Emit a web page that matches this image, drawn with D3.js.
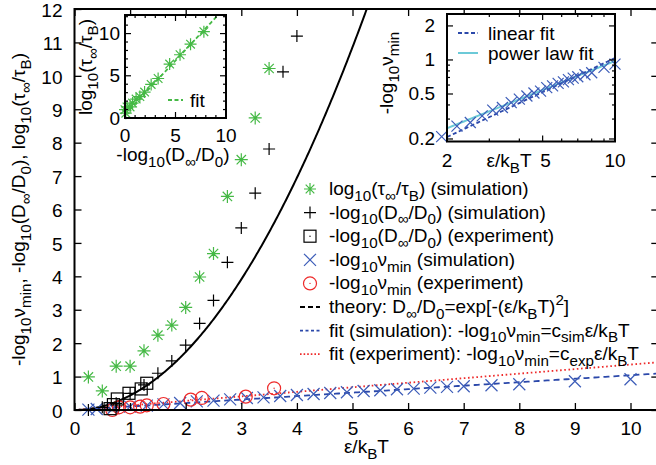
<!DOCTYPE html>
<html>
<head>
<meta charset="utf-8">
<script src="https://cdn.jsdelivr.net/npm/d3@7"></script>
<style>
  body { margin: 0; background: #fff; }
  svg { display: block; }
  text { font-family: "Liberation Sans", Arial, Helvetica, sans-serif; white-space: pre; fill: #000; }
</style>
</head>
<body>
<svg id="chart" width="656" height="465"></svg>
<script>
// ---- data ----
// log10(tau_inf/tau_B), simulation
const epsTau = [0.25, 0.5, 0.75, 1.0, 1.25, 1.5, 1.75, 2.0, 2.25, 2.5, 2.75, 3.0, 3.25, 3.5];
const logTau = [0.99, 0.57, 1.31, 1.31, 1.77, 2.24, 2.54, 3.07, 3.98, 4.68, 6.39, 7.49, 8.74, 10.22];
// -log10(D_inf/D0), simulation
const epsDsim = [0.25, 0.5, 0.75, 1.0, 1.25, 1.5, 1.75, 2.0, 2.25, 2.5, 2.75, 3.0, 3.25, 3.5, 3.75, 4.0];
const negLogDsim = [0.0, 0.08, 0.2, 0.5, 0.75, 1.1, 1.47, 1.94, 2.59, 3.28, 4.42, 5.45, 6.49, 7.81, 10.12, 11.19];
// -log10(D_inf/D0), experiment
const epsDexp = [0.64, 0.7, 0.77, 0.98, 1.2, 1.3];
const negLogDexp = [0.04, 0.16, 0.33, 0.5, 0.63, 0.8];
// -log10 nu_min, simulation
const epsNuSim = [0.25, 0.4, 0.7, 1.0, 1.3, 1.6, 1.9, 2.2, 2.5, 2.8, 3.1, 3.4, 3.7, 4.0, 4.3, 4.6, 4.9, 5.2, 5.5, 5.8, 6.1, 6.4, 6.7, 7.0, 7.5, 8.0, 9.0, 10.0];
const negLogNuSim = [0.01, 0.03, 0.06, 0.10, 0.13, 0.17, 0.21, 0.26, 0.28, 0.32, 0.36, 0.38, 0.42, 0.45, 0.48, 0.51, 0.53, 0.57, 0.59, 0.62, 0.64, 0.67, 0.69, 0.71, 0.74, 0.77, 0.86, 0.92];
// -log10 nu_min, experiment
const epsNuExp = [0.68, 0.8, 1.0, 1.18, 1.3, 1.6, 2.09, 2.29, 3.08, 3.59];
const negLogNuExp = [0.0, 0.08, 0.08, 0.1, 0.14, 0.18, 0.31, 0.36, 0.4, 0.65];
// fit parameters
const cSim = 0.104;
const cExp = 0.136;
const powA = 0.138, powB = 0.851;
const tauFitSlope = 1.28, tauFitIntercept = 0.4;
// tick values
const xTicks = [0, 1, 2, 3, 4, 5, 6, 7, 8, 9, 10];
const yTicks = [0, 1, 2, 3, 4, 5, 6, 7, 8, 9, 10, 11, 12];
const in1Major = [0, 5, 10];
const in1Minor = [1, 2, 3, 4, 6, 7, 8, 9, 11, 12];
const in2XMajor = [2, 5, 10];
const in2XMinor = [3, 4, 6, 7, 8, 9];
const in2YMajor = [0.2, 0.5, 1, 2];
const in2YMinor = [0.3, 0.4, 0.6, 0.7, 0.8, 0.9];

// ---- colours ----
const GREEN = "#45b945", BLUE = "#3c5cb8", BLUE_LINE = "#2b48aa", RED = "#ee2a2a", CYAN = "#6ccad8";
const FS = 19;

const svg = d3.select("#chart");

// text with _sub and ^sup markup
function rich(sel, str, fs) {
  const re = /([_^])(\{([^}]*)\}|(.))/g;
  const segs = [];
  let last = 0, m;
  while ((m = re.exec(str))) {
    if (m.index > last) segs.push({ t: str.slice(last, m.index), k: 0 });
    segs.push({ t: m[3] !== undefined ? m[3] : m[4], k: m[1] === "_" ? 1 : -1 });
    last = re.lastIndex;
  }
  if (last < str.length) segs.push({ t: str.slice(last), k: 0 });
  let cur = 0;
  segs.forEach(s => {
    const off = s.k === 1 ? 0.3 * fs : s.k === -1 ? -0.42 * fs : 0;
    sel.append("tspan").attr("dy", off - cur).attr("font-size", s.k ? fs * 0.8 : fs).text(s.t);
    cur = off;
  });
  return sel;
}

function label(g, str, x, y, anchor, fs, rot) {
  const t = g.append("text").attr("text-anchor", anchor || "start").attr("font-size", fs || FS);
  if (rot) t.attr("transform", `translate(${x},${y}) rotate(${rot})`);
  else t.attr("x", x).attr("y", y);
  return rich(t, str, fs || FS);
}

// point symbols
function symbolPath(type, cx, cy, s) {
  const p = d3.path();
  if (type === "plus" || type === "star") {
    p.moveTo(cx - s, cy); p.lineTo(cx + s, cy);
    p.moveTo(cx, cy - s); p.lineTo(cx, cy + s);
  }
  if (type === "cross" || type === "star") {
    const d = type === "star" ? s * 0.72 : s;
    p.moveTo(cx - d, cy - d); p.lineTo(cx + d, cy + d);
    p.moveTo(cx - d, cy + d); p.lineTo(cx + d, cy - d);
  }
  return p.toString();
}
function drawPoint(g, type, cx, cy, s, color) {
  if (type === "square") {
    g.append("rect").attr("x", cx - s).attr("y", cy - s).attr("width", 2 * s).attr("height", 2 * s)
      .attr("fill", "none").attr("stroke", color).attr("stroke-width", 1.2);
    g.append("circle").attr("cx", cx).attr("cy", cy).attr("r", 0.7).attr("fill", color);
  } else if (type === "circle") {
    g.append("circle").attr("cx", cx).attr("cy", cy).attr("r", s)
      .attr("fill", "none").attr("stroke", color).attr("stroke-width", 1.2);
    g.append("circle").attr("cx", cx).attr("cy", cy).attr("r", 0.7).attr("fill", color);
  } else {
    g.append("path").attr("d", symbolPath(type, cx, cy, s)).attr("fill", "none")
      .attr("stroke", color).attr("stroke-width", 1.2);
  }
}

// ---- main plot ----
const x = d3.scaleLinear().domain([0, 10.5]).range([74.5, 658.3]);
const y = d3.scaleLinear().domain([0, 12]).range([410, 9]);

svg.append("clipPath").attr("id", "clipMain").append("rect")
  .attr("x", x(0)).attr("y", y(12)).attr("width", x(10.5) - x(0)).attr("height", y(0) - y(12));

const plot = svg.append("g").attr("clip-path", "url(#clipMain)");

// fit lines
const fitX = d3.range(0, 10.51, 0.05);
const lineMain = d3.line().x(d => x(d[0])).y(d => y(d[1]));
plot.append("path").attr("d", lineMain(fitX.map(e => [e, cExp * e])))
  .attr("fill", "none").attr("stroke", RED).attr("stroke-width", 1.8).attr("stroke-dasharray", "1.6,2.6");
plot.append("path").attr("d", lineMain(fitX.map(e => [e, cSim * e])))
  .attr("fill", "none").attr("stroke", BLUE_LINE).attr("stroke-width", 1.8).attr("stroke-dasharray", "6,4");
// theory curve: -log10(D/D0) = (eps/kT)^2 / ln 10
plot.append("path").attr("d", lineMain(d3.range(0, 5.6, 0.02).map(e => [e, e * e / Math.LN10])))
  .attr("fill", "none").attr("stroke", "#000").attr("stroke-width", 2);

const pts = svg.append("g");
epsNuSim.forEach((e, i) => drawPoint(pts, "cross", x(e), y(negLogNuSim[i]), 6, BLUE));
epsNuExp.forEach((e, i) => drawPoint(pts, "circle", x(e), y(negLogNuExp[i]), 6.5, RED));
epsDexp.forEach((e, i) => drawPoint(pts, "square", x(e), y(negLogDexp[i]), 6, "#000"));
epsDsim.forEach((e, i) => drawPoint(pts, "plus", x(e), y(negLogDsim[i]), 6, "#000"));
epsTau.forEach((e, i) => drawPoint(pts, "star", x(e), y(logTau[i]), 6.5, GREEN));

// axes
function styleAxis(g, fs) {
  g.attr("font-family", null).attr("font-size", null);
  g.select(".domain").remove();
  g.selectAll(".tick line").attr("stroke", "#000").attr("stroke-width", 1.3);
  g.selectAll(".tick text").attr("font-size", fs).attr("fill", "#000");
}
const TK = 7;
styleAxis(svg.append("g").attr("transform", `translate(0,${y(0)})`)
  .call(d3.axisBottom(x).tickValues(xTicks).tickSize(-TK).tickPadding(11.5).tickFormat(d3.format("d"))), FS);
const yAxisG = svg.append("g").attr("transform", `translate(${x(0)},0)`)
  .call(d3.axisLeft(y).tickValues(yTicks).tickSize(-TK).tickPadding(12).tickFormat(d3.format("d")));
styleAxis(yAxisG, FS);
yAxisG.selectAll(".tick text").attr("dy", "0.38em");
styleAxis(svg.append("g").attr("transform", `translate(0,${y(12)})`)
  .call(d3.axisTop(x).tickValues(xTicks).tickSize(-TK).tickFormat("")), FS);
styleAxis(svg.append("g").attr("transform", `translate(${x(10.5)},0)`)
  .call(d3.axisRight(y).tickValues(yTicks).tickSize(-TK).tickFormat("")), FS);
svg.append("rect").attr("x", x(0)).attr("y", y(12)).attr("width", x(10.5) - x(0)).attr("height", y(0) - y(12))
  .attr("fill", "none").attr("stroke", "#000").attr("stroke-width", 2);

label(svg, "ε/k_BT", (x(0) + x(10.5)) / 2, 453, "middle");
label(svg, "-log_{10}ν_{min}, -log_{10}(D_∞/D_0), log_{10}(τ_∞/τ_B)", 25, (y(0) + y(12)) / 2, "middle", FS, -90);

// legend
const leg = svg.append("g");
const legRows = [
  { kind: "star", color: GREEN, text: "log_{10}(τ_∞/τ_B) (simulation)" },
  { kind: "plus", color: "#000", text: "-log_{10}(D_∞/D_0) (simulation)" },
  { kind: "square", color: "#000", text: "-log_{10}(D_∞/D_0) (experiment)" },
  { kind: "cross", color: BLUE, text: "-log_{10}ν_{min} (simulation)" },
  { kind: "circle", color: RED, text: "-log_{10}ν_{min} (experiment)" },
  { kind: "line", color: "#000", dash: "5,3", text: "theory: D_∞/D_0=exp[-(ε/k_BT)^{2}]" },
  { kind: "line", color: BLUE_LINE, dash: "3,2.5", text: "fit (simulation): -log_{10}ν_{min}=c_{sim}ε/k_BT" },
  { kind: "line", color: RED, dash: "1.6,2", text: "fit (experiment): -log_{10}ν_{min}=c_{exp}ε/k_BT" }
];
legRows.forEach((r, i) => {
  const cy = 189 + i * 23.6;
  if (r.kind === "line") {
    leg.append("line").attr("x1", 300).attr("x2", 320).attr("y1", cy).attr("y2", cy)
      .attr("stroke", r.color).attr("stroke-width", 1.8).attr("stroke-dasharray", r.dash);
  } else {
    drawPoint(leg, r.kind, 310, cy, r.kind === "circle" ? 6.5 : 6, r.color);
  }
  label(leg, r.text, 329, cy + 6, "start");
});

// ---- inset 1: tau vs D ----
const ix = d3.scaleLinear().domain([0, 10]).range([125, 226]);
const iy = d3.scaleLinear().domain([0, 12.2]).range([118, 15]);
const in1 = svg.append("g");
in1.append("rect").attr("x", 125).attr("y", 15).attr("width", 101).attr("height", 103).attr("fill", "#fff");
in1.append("clipPath").attr("id", "clipIn1").append("rect").attr("x", 125).attr("y", 15).attr("width", 101).attr("height", 103);
in1.append("path").attr("clip-path", "url(#clipIn1)")
  .attr("d", d3.line().x(d => ix(d)).y(d => iy(tauFitIntercept + tauFitSlope * d))(d3.range(0, 10.01, 0.5)))
  .attr("fill", "none").attr("stroke", GREEN).attr("stroke-width", 1.8).attr("stroke-dasharray", "4,2.5");
epsTau.forEach((e, i) => drawPoint(in1, "star", ix(negLogDsim[i]), iy(logTau[i]), 6, GREEN));
function inTicks(g, xs, ys, len) {
  xs.forEach(v => {
    g.append("line").attr("x1", ix(v)).attr("x2", ix(v)).attr("y1", 118).attr("y2", 118 - len).attr("stroke", "#000").attr("stroke-width", 1.2);
    g.append("line").attr("x1", ix(v)).attr("x2", ix(v)).attr("y1", 15).attr("y2", 15 + len).attr("stroke", "#000").attr("stroke-width", 1.2);
  });
  ys.forEach(v => {
    g.append("line").attr("y1", iy(v)).attr("y2", iy(v)).attr("x1", 125).attr("x2", 125 + len).attr("stroke", "#000").attr("stroke-width", 1.2);
    g.append("line").attr("y1", iy(v)).attr("y2", iy(v)).attr("x1", 226).attr("x2", 226 - len).attr("stroke", "#000").attr("stroke-width", 1.2);
  });
}
inTicks(in1, in1Major, in1Major, 6);
inTicks(in1, in1Minor.filter(v => v <= 10), in1Minor, 3);
in1.append("rect").attr("x", 125).attr("y", 15).attr("width", 101).attr("height", 103)
  .attr("fill", "none").attr("stroke", "#000").attr("stroke-width", 2);
in1Major.forEach(v => {
  in1.append("text").attr("x", ix(v)).attr("y", 142).attr("text-anchor", "middle").attr("font-size", FS).text(v);
  in1.append("text").attr("x", 120).attr("y", iy(v) + 6.5).attr("text-anchor", "end").attr("font-size", FS).text(v);
});
in1.append("line").attr("x1", 168).attr("x2", 183).attr("y1", 100).attr("y2", 100)
  .attr("stroke", GREEN).attr("stroke-width", 1.8).attr("stroke-dasharray", "4,2.5");
label(in1, "fit", 190, 106.5, "start");
label(in1, "-log_{10}(D_∞/D_0)", 173, 161, "middle");
label(in1, "log_{10}(τ_∞/τ_B)", 92, 67, "middle", FS, -90);

// ---- inset 2: nu_min on log-log axes ----
const lx = d3.scaleLog().domain([2, 10]).range([447, 615]);
const ly = d3.scaleLog().domain([0.19, 2.55]).range([141.5, 14]);
const in2 = svg.append("g");
in2.append("rect").attr("x", 447).attr("y", 14).attr("width", 168).attr("height", 127.5).attr("fill", "#fff");
in2.append("clipPath").attr("id", "clipIn2").append("rect").attr("x", 447).attr("y", 14).attr("width", 168).attr("height", 127.5);
const fitL = d3.range(0, 61).map(i => 2 * Math.pow(5, i / 60));
const lineIn2 = d3.line().x(d => lx(d[0])).y(d => ly(d[1]));
in2.append("path").attr("clip-path", "url(#clipIn2)").attr("d", lineIn2(fitL.map(e => [e, powA * Math.pow(e, powB)])))
  .attr("fill", "none").attr("stroke", CYAN).attr("stroke-width", 2);
in2.append("path").attr("clip-path", "url(#clipIn2)").attr("d", lineIn2(fitL.map(e => [e, cSim * e])))
  .attr("fill", "none").attr("stroke", BLUE_LINE).attr("stroke-width", 1.8).attr("stroke-dasharray", "4,2.5");
epsNuSim.forEach((e, i) => {
  if (e >= 1.85) drawPoint(in2, "cross", lx(e), ly(negLogNuSim[i]), 5.5, BLUE);
});
function logTicks(g, xs, ys, len) {
  xs.forEach(v => {
    g.append("line").attr("x1", lx(v)).attr("x2", lx(v)).attr("y1", 141.5).attr("y2", 141.5 - len).attr("stroke", "#000").attr("stroke-width", 1.2);
    g.append("line").attr("x1", lx(v)).attr("x2", lx(v)).attr("y1", 14).attr("y2", 14 + len).attr("stroke", "#000").attr("stroke-width", 1.2);
  });
  ys.forEach(v => {
    g.append("line").attr("y1", ly(v)).attr("y2", ly(v)).attr("x1", 447).attr("x2", 447 + len).attr("stroke", "#000").attr("stroke-width", 1.2);
    g.append("line").attr("y1", ly(v)).attr("y2", ly(v)).attr("x1", 615).attr("x2", 615 - len).attr("stroke", "#000").attr("stroke-width", 1.2);
  });
}
logTicks(in2, in2XMajor, in2YMajor, 6);
logTicks(in2, in2XMinor, in2YMinor, 3);
in2.append("rect").attr("x", 447).attr("y", 14).attr("width", 168).attr("height", 127.5)
  .attr("fill", "none").attr("stroke", "#000").attr("stroke-width", 2);
in2XMajor.forEach(v => {
  in2.append("text").attr("x", v === 5 ? lx(v) + 3 : lx(v)).attr("y", 167).attr("text-anchor", "middle").attr("font-size", FS).text(v);
});
in2YMajor.forEach(v => {
  in2.append("text").attr("x", 435).attr("y", ly(v) + 6.5).attr("text-anchor", "end").attr("font-size", FS).text(v);
});
label(in2, "ε/k_BT", 509, 167, "middle");
label(in2, "-log_{10}ν_{min}", 393, 73, "middle", FS, -90);
in2.append("line").attr("x1", 458).attr("x2", 478).attr("y1", 33).attr("y2", 33)
  .attr("stroke", BLUE_LINE).attr("stroke-width", 1.8).attr("stroke-dasharray", "4,2.5");
label(in2, "linear fit", 488, 40, "start");
in2.append("line").attr("x1", 458).attr("x2", 478).attr("y1", 53).attr("y2", 53)
  .attr("stroke", CYAN).attr("stroke-width", 2);
label(in2, "power law fit", 488, 60, "start");
</script>
</body>
</html>
